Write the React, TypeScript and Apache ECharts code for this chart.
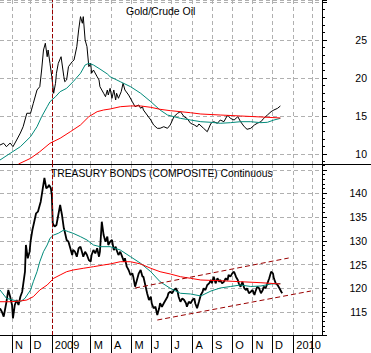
import React, { useEffect, useRef } from "react";
import * as echarts from "echarts";

// Weekday calendar used as the x categories (first weekday shown: 2008-10-15)
const FIRST_DAY = "2008-10-15";
const DAY_COUNT = 349;
const MONTH_LETTERS = ["J", "F", "M", "A", "M", "J", "J", "A", "S", "O", "N", "D"];
const MARKER_DATE = "2009-01-01";

// Panel titles
const TOP_TITLE = "Gold/Crude Oil";
const BOTTOM_TITLE = "TREASURY BONDS (COMPOSITE) Continuous";

// [weekday index, value]
const goldCrude: [number, number][] = [
  [0, 11.18], [4, 11.41], [7, 10.96], [11, 11.45], [14, 10.96], [18, 11.84], [22, 12.76], [25, 13.59],
  [29, 15.36], [33, 15.36], [36, 16.67], [40, 18.42], [43, 18.86], [45, 21.05], [47, 23.68], [49, 24.57],
  [51, 22.8], [52, 23.68], [54, 21.93], [56, 20.17], [58, 17.99], [60, 19.3], [61, 20.62], [63, 21.93],
  [66, 22.8], [69, 20.17], [70, 19.51], [72, 19.74], [74, 21.49], [78, 22.14], [80, 22.37], [83, 24.12],
  [85, 26.32], [87, 28.07], [89, 27.2], [90, 28.07], [92, 25], [94, 24.12], [96, 21.49], [98, 21.93],
  [99, 20.62], [101, 21.05], [105, 20.17], [107, 19.74], [108, 18.86], [112, 17.99], [114, 17.54],
  [116, 18.42], [117, 17.76], [119, 18.64], [121, 17.33], [123, 18.42], [125, 17.11], [126, 17.99],
  [128, 17.33], [131, 18.2], [133, 19.3], [135, 18.42], [139, 17.76], [143, 16.88], [146, 16.22],
  [150, 16.45], [152, 16.01], [154, 16.22], [155, 15.79], [159, 15.13], [163, 14.47], [166, 13.82],
  [170, 13.38], [173, 13.38], [177, 13.59], [181, 13.38], [184, 13.82], [188, 14.91], [192, 15.36],
  [195, 15.57], [199, 14.91], [202, 14.69], [206, 14.04], [210, 13.82], [213, 13.59], [215, 13.95],
  [220, 13.38], [224, 12.93], [228, 14.04], [231, 14.25], [235, 14.04], [238, 14.47], [242, 14.25],
  [246, 15.13], [249, 14.69], [253, 14.47], [257, 14.91], [260, 14.25], [264, 13.59], [267, 13.25],
  [271, 13.38], [275, 13.82], [278, 14.04], [282, 14.25], [285, 14.69], [289, 15.13], [293, 15.57],
  [296, 15.79], [300, 16.01], [303, 16.32],
];

const goldCrudeShortAvg: [number, number][] = [
  [0, 9.21], [11, 10.09], [22, 10.96], [33, 12.28], [40, 13.59], [45, 14.91], [51, 16.22], [54, 16.88],
  [60, 17.54], [65, 18.2], [72, 18.64], [79, 19.51], [87, 20.62], [92, 21.71], [96, 21.93], [101, 21.71],
  [108, 21.18], [116, 20.53], [119, 20.17], [130, 19.51], [141, 18.86], [152, 17.99], [163, 16.88],
  [173, 15.79], [181, 15.13], [188, 14.91], [195, 14.69], [206, 14.47], [217, 14.25], [228, 14.17],
  [238, 14.04], [249, 14.12], [260, 14.25], [271, 14.25], [282, 14.12], [289, 14.17], [296, 14.47],
  [303, 14.69],
];

const goldCrudeLongAvg: [number, number][] = [
  [20, 8.68], [33, 9.43], [43, 10.3], [54, 11.41], [65, 12.07], [76, 12.93], [87, 13.82], [96, 14.91],
  [105, 15.57], [112, 15.79], [119, 15.92], [130, 16.22], [141, 16.32], [152, 16.32], [163, 16.14],
  [173, 15.88], [184, 15.7], [195, 15.57], [206, 15.43], [217, 15.26], [238, 15.13], [260, 15.0],
  [282, 14.87], [303, 14.74],
];

const bonds: [number, number][] = [
  [0, 115.78], [2, 115.06], [4, 114.01], [5, 115.06], [7, 117.17], [9, 119.64], [11, 118.23], [13, 116.48],
  [14, 113.67], [16, 116.48], [18, 117.53], [20, 116.48], [22, 118.23], [24, 119.28], [25, 120.7],
  [27, 123.5], [28, 129.14], [30, 126.33], [32, 127.72], [33, 129.83], [35, 132.3], [37, 134.05],
  [39, 135.82], [41, 136.16], [43, 137.57], [44, 138.27], [46, 140.74], [48, 143.27], [50, 141.1],
  [52, 141.43], [53, 141.79], [55, 141.1], [56, 139.68], [57, 133.71], [59, 133.0], [61, 133.35],
  [63, 135.46], [65, 137.57], [67, 135.46], [69, 132.66], [70, 131.94], [72, 130.19], [74, 129.83],
  [76, 128.44], [78, 127.03], [79, 128.08], [81, 127.72], [83, 126.67], [85, 128.44], [87, 128.78],
  [89, 127.38], [90, 126.67], [92, 127.72], [94, 127.03], [96, 125.97], [98, 125.61], [99, 127.03],
  [101, 128.08], [103, 127.38], [105, 128.44], [107, 126.67], [108, 127.72], [110, 134.05], [112, 131.24],
  [114, 129.83], [116, 130.89], [117, 129.14], [119, 129.83], [121, 130.19], [123, 128.08], [125, 128.78],
  [126, 128.08], [128, 127.03], [130, 127.72], [132, 126.67], [134, 125.61], [135, 126.33], [137, 124.56],
  [139, 123.86], [141, 122.81], [143, 123.16], [144, 122.45], [146, 120.34], [148, 121.75], [150, 123.16],
  [152, 123.86], [154, 122.45], [155, 122.45], [157, 120.7], [159, 118.95], [161, 117.53], [163, 118.23],
  [164, 116.84], [166, 115.78], [168, 116.12], [170, 114.37], [172, 115.78], [173, 116.84], [175, 116.12],
  [177, 116.84], [179, 117.53], [181, 118.23], [182, 118.95], [184, 119.28], [186, 118.95], [188, 119.64],
  [190, 120.0], [192, 119.28], [193, 118.23], [195, 117.17], [197, 117.89], [199, 117.53], [201, 116.84],
  [202, 116.12], [204, 117.17], [206, 116.84], [208, 117.53], [210, 117.89], [211, 116.84], [213, 115.78],
  [215, 117.17], [217, 118.59], [219, 119.28], [220, 120.0], [222, 119.64], [224, 120.7], [226, 121.05],
  [228, 121.75], [229, 121.05], [231, 122.45], [233, 121.05], [235, 122.11], [237, 121.39], [238, 121.75],
  [240, 121.05], [242, 121.39], [244, 122.11], [246, 121.75], [247, 122.81], [249, 122.45], [251, 123.16],
  [253, 123.5], [255, 122.45], [257, 121.75], [258, 121.05], [260, 120.34], [262, 121.39], [264, 120.0],
  [266, 119.64], [267, 120.0], [269, 118.95], [271, 119.28], [273, 119.64], [275, 118.59], [276, 119.28],
  [278, 120.34], [280, 120.0], [282, 118.95], [284, 119.64], [285, 120.34], [287, 120.0], [289, 121.05],
  [291, 122.11], [293, 123.5], [295, 123.16], [296, 122.11], [298, 121.05], [300, 120.7], [302, 120.0],
  [304, 119.28], [305, 118.95],
];

const bondsShortAvg: [number, number][] = [
  [0, 119.64], [7, 117.89], [14, 117.53], [22, 117.17], [27, 117.89], [33, 119.64], [36, 121.39],
  [40, 123.5], [43, 125.61], [47, 127.72], [51, 129.14], [54, 130.55], [58, 131.24], [63, 131.6],
  [69, 132.3], [74, 131.94], [79, 131.6], [87, 130.89], [94, 130.19], [101, 129.14], [108, 128.78],
  [119, 128.78], [130, 128.08], [141, 126.67], [152, 125.27], [163, 123.5], [173, 121.39], [184, 120.0],
  [195, 118.95], [206, 118.8], [217, 118.38], [228, 119.43], [238, 120.06], [249, 120.38], [260, 120.7],
  [271, 120.38], [282, 120.49], [293, 120.91], [303, 121.01],
];

const bondsLongAvg: [number, number][] = [
  [0, 117.17], [11, 117.17], [22, 117.32], [29, 117.53], [36, 118.23], [43, 119.64], [51, 120.7],
  [58, 122.11], [65, 122.81], [72, 123.5], [79, 123.86], [90, 124.22], [101, 124.56], [112, 124.92],
  [119, 125.13], [130, 125.61], [141, 125.61], [152, 125.13], [163, 124.22], [173, 123.5], [184, 123.02],
  [195, 122.45], [206, 122.11], [217, 121.75], [238, 121.6], [260, 121.39], [282, 121.18], [303, 120.91],
];

const channelUpper: [number, number][] = [[146, 120.06], [312, 126.39]];
const channelLower: [number, number][] = [[170, 113.31], [336, 119.43]];

const FONT = '"Liberation Sans", Arial, sans-serif';

function buildDays(): string[] {
  const out: string[] = [];
  const d = new Date(FIRST_DAY + "T00:00:00Z");
  while (out.length < DAY_COUNT) {
    const w = d.getUTCDay();
    if (w !== 0 && w !== 6) out.push(d.toISOString().slice(0, 10));
    d.setUTCDate(d.getUTCDate() + 1);
  }
  return out;
}

export default function App() {
  const ref = useRef<HTMLDivElement>(null);

  useEffect(() => {
    if (!ref.current) return;
    const chart = echarts.init(ref.current, undefined, { renderer: "svg" });
    const days = buildDays();
    const monthStart = (i: number) => i > 0 && days[i].slice(0, 7) !== days[i - 1].slice(0, 7);
    const monthLabel = (v: string) => {
      const m = parseInt(v.slice(5, 7), 10);
      if (m === 1) return v.slice(0, 4);
      if (m === 2) return "";
      return MONTH_LETTERS[m - 1];
    };
    const gridLine = { show: true, lineStyle: { color: "#b0b0b0", type: [4, 3] as any, width: 1 } };
    const marker = {
      silent: true,
      symbol: "none",
      label: { show: false },
      lineStyle: { color: "#990000", type: [4, 2] as any, width: 1 },
      data: [{ xAxis: MARKER_DATE }],
    };
    const yBase = {
      type: "value",
      position: "right",
      minInterval: 5,
      maxInterval: 5,
      axisLine: { show: true, lineStyle: { color: "#000" } },
      axisTick: { show: true, length: 5, lineStyle: { color: "#000" } },
      minorTick: { show: true, splitNumber: 5, length: 3, lineStyle: { color: "#000" } },
      splitLine: gridLine,
    };
    const line = (data: [number, number][], idx: number, color: string, width: number, z: number, extra: any = {}) => ({
      type: "line",
      xAxisIndex: idx,
      yAxisIndex: idx,
      data,
      showSymbol: false,
      symbol: "none",
      z,
      lineStyle: { color, width },
      ...extra,
    });

    chart.setOption({
      animation: false,
      backgroundColor: "#ffffff",
      textStyle: { fontFamily: FONT },
      grid: [
        { left: 0, top: 0, width: 322, height: 164 },
        { left: 0, top: 164, width: 322, height: 171 },
      ],
      xAxis: [
        {
          type: "category",
          gridIndex: 0,
          data: days,
          boundaryGap: false,
          axisLine: { show: true, lineStyle: { color: "#000" } },
          axisTick: { show: false },
          axisLabel: { show: false },
          splitLine: { ...gridLine, interval: (i: number) => monthStart(i) },
        },
        {
          type: "category",
          gridIndex: 1,
          data: days,
          boundaryGap: false,
          axisLine: { show: true, lineStyle: { color: "#000" } },
          axisTick: {
            show: true,
            length: 18,
            interval: (i: number) => monthStart(i),
            lineStyle: { color: "#000" },
          },
          axisLabel: {
            interval: (i: number) => monthStart(i),
            formatter: (v: string) => monthLabel(v),
            align: "left",
            margin: 4,
            padding: [0, 0, 0, 3],
            fontSize: 11,
            color: "#000",
            fontFamily: FONT,
          },
          splitLine: { ...gridLine, interval: (i: number) => monthStart(i) },
        },
      ],
      yAxis: [
        {
          ...yBase,
          gridIndex: 0,
          min: 8.684,
          max: 30.26,
          axisLabel: {
            align: "right",
            margin: 45,
            fontSize: 10.5,
            color: "#000",
            fontFamily: FONT,
            formatter: (v: number) => {
              const r = Math.round(v);
              return Math.abs(v - r) < 1e-6 && r % 5 === 0 && r <= 25 ? String(r) : "";
            },
          },
        },
        {
          ...yBase,
          gridIndex: 1,
          min: 110.15,
          max: 146.22,
          axisLabel: {
            align: "right",
            margin: 45,
            fontSize: 10.5,
            color: "#000",
            fontFamily: FONT,
            formatter: (v: number) => {
              const r = Math.round(v);
              return Math.abs(v - r) < 1e-6 && r % 5 === 0 && r <= 140 ? String(r) : "";
            },
          },
        },
      ],
      series: [
        line(goldCrude, 0, "#000000", 1, 3, { markLine: marker }),
        line(goldCrudeShortAvg, 0, "#008a7a", 1, 4),
        line(goldCrudeLongAvg, 0, "#ff0000", 1, 5),
        line(bonds, 1, "#000000", 1.8, 3, { markLine: marker }),
        line(bondsShortAvg, 1, "#008a7a", 1, 4),
        line(bondsLongAvg, 1, "#ff0000", 1, 5),
        line(channelUpper, 1, "#990000", 1, 6, { lineStyle: { color: "#990000", width: 1, type: [5, 3] } }),
        line(channelLower, 1, "#990000", 1, 6, { lineStyle: { color: "#990000", width: 1, type: [5, 3] } }),
      ],
      graphic: [
        {
          type: "line",
          shape: { x1: 322, y1: 164.5, x2: 371, y2: 164.5 },
          style: { stroke: "#000", lineWidth: 1 },
          z: 10,
        },
        {
          type: "text",
          x: 126,
          y: 5,
          style: { text: TOP_TITLE, fill: "#000", font: `10.5px ${FONT}`, textVerticalAlign: "top" },
          z: 10,
        },
        {
          type: "text",
          x: 51,
          y: 168.5,
          style: { text: BOTTOM_TITLE, fill: "#000", font: `10.3px ${FONT}`, textVerticalAlign: "top" },
          z: 10,
        },
      ],
    });
    return () => chart.dispose();
  }, []);

  return (
    <div
      ref={ref}
      style={{ position: "fixed", left: 0, top: 0, width: 371, height: 353, background: "#fff" }}
    />
  );
}
